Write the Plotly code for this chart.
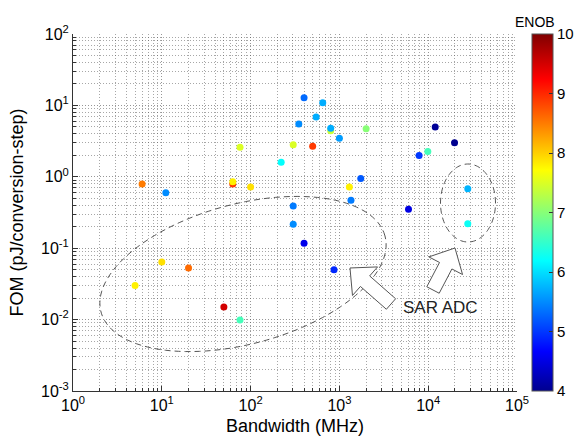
import numpy as np
import plotly.graph_objects as go

# ---------------- data ----------------
bandwidth_mhz = [6, 11.1, 5, 10, 20, 50, 76, 63, 63, 100, 76, 221, 302, 302, 302,
                 400, 400, 349, 547, 500, 649, 798, 798, 1000, 2000, 1740, 1295,
                 1350, 870, 6000, 7900, 9900, 12000, 19800, 27900, 27900]
fom_pj = [0.79, 0.60, 0.030, 0.064, 0.053, 0.015, 0.0099, 0.79, 0.855, 0.72, 2.6,
          1.6, 2.8, 0.39, 0.216, 0.117, 12.8, 5.5, 6.9, 2.67, 10.9, 4.4, 4.8,
          3.46, 4.7, 0.95, 0.72, 0.47, 0.05, 0.35, 1.98, 2.27, 4.98, 3.0, 0.68, 0.22]
enob = [8.5, 5.5, 7.8, 7.9, 8.6, 9.5, 6.6, 8.9, 7.8, 7.9, 7.5, 6.2, 7.5, 5.4, 5.5,
        4.55, 5.3, 5.5, 5.7, 8.9, 5.7, 7.4, 5.7, 5.6, 7.0, 5.2, 7.8, 5.4, 4.9,
        4.5, 5.0, 6.6, 4.05, 4.0, 5.75, 6.25]

x_tick_vals = [1, 10, 100, 1000, 10000, 100000]
x_tick_text = ["10<sup>0</sup>", "10<sup>1</sup>", "10<sup>2</sup>",
               "10<sup>3</sup>", "10<sup>4</sup>", "10<sup>5</sup>"]
y_tick_vals = [0.001, 0.01, 0.1, 1, 10, 100]
y_tick_text = ["10<sup>-3</sup>", "10<sup>-2</sup>", "10<sup>-1</sup>",
               "10<sup>0</sup>", "10<sup>1</sup>", "10<sup>2</sup>"]
cbar_ticks = [4, 5, 6, 7, 8, 9, 10]

x_minor = [m * 10 ** k for k in range(0, 5) for m in range(2, 10)]
y_minor = [m * 10.0 ** k for k in range(-3, 2) for m in range(2, 10)]

JET = [[0.0, "rgb(0,0,143)"], [0.111, "rgb(0,0,255)"], [0.365, "rgb(0,255,255)"],
       [0.619, "rgb(255,255,0)"], [0.873, "rgb(255,0,0)"], [1.0, "rgb(128,0,0)"]]

FONT = "Liberation Sans, Arial, sans-serif"
W, H = 574, 438
ML, MR, MT, MB = 73, 57, 34, 47
PW, PH = W - ML - MR, H - MT - MB


def px2paper(px, py):
    return (px - ML) / PW, (H - MB - py) / PH


def ellipse_path(cx, cy, a, b, theta_deg, n=120):
    th = np.radians(theta_deg)
    t = np.linspace(0, 2 * np.pi, n)
    dx = a * np.cos(t) * np.cos(th) - b * np.sin(t) * np.sin(th)
    dy = a * np.cos(t) * np.sin(th) + b * np.sin(t) * np.cos(th)
    pts = [px2paper(cx + u, cy - v) for u, v in zip(dx, dy)]
    return "M " + " L ".join(f"{x:.5f},{y:.5f}" for x, y in pts) + " Z"


def arrow_path(tip, tail, hl=20, hw=19, sw=7):
    P = np.array(tip, float)
    T = np.array(tail, float)
    u = (P - T) / np.linalg.norm(P - T)
    nrm = np.array([-u[1], u[0]])
    B = P - u * hl
    poly = [P, B + nrm * hw, B + nrm * sw, T + nrm * sw, T - nrm * sw,
            B - nrm * sw, B - nrm * hw]
    pts = [px2paper(p[0], p[1]) for p in poly]
    return "M " + " L ".join(f"{x:.5f},{y:.5f}" for x, y in pts) + " Z"


fig = go.Figure()
fig.add_trace(go.Scatter(
    x=bandwidth_mhz, y=fom_pj, mode="markers", showlegend=False,
    marker=dict(size=7, color=enob, colorscale=JET, cmin=4, cmax=10,
                line=dict(width=0),
                colorbar=dict(x=(532 - ML) / PW, xanchor="left", xpad=0,
                              y=0.5, yanchor="middle", ypad=0, len=1, lenmode="fraction",
                              thickness=21, outlinewidth=1, outlinecolor="#555",
                              tickvals=cbar_ticks, ticks="inside", ticklen=4,
                              tickcolor="#333",
                              tickfont=dict(family=FONT, size=15, color="black"))),
))

grid_dash = "1px,2px"
axis_common = dict(
    type="log", ticks="inside", ticklen=5, tickcolor="#333", showline=True,
    linecolor="#333", linewidth=1, mirror=False, showgrid=True,
    gridcolor="rgba(80,80,80,0.6)", griddash=grid_dash, gridwidth=1,
    zeroline=False, automargin=False,
    tickfont=dict(family=FONT, size=16, color="black"),
)
minor_common = dict(tickmode="array", ticks="inside", ticklen=3, tickcolor="#333",
                    showgrid=True, gridcolor="rgba(80,80,80,0.5)", griddash=grid_dash)

fig.update_layout(
    width=W, height=H, margin=dict(l=ML, r=MR, t=MT, b=MB, autoexpand=False),
    paper_bgcolor="white", plot_bgcolor="white",
    font=dict(family=FONT, color="black"),
    xaxis=dict(**axis_common, range=[0, 5], tickmode="array", tickvals=x_tick_vals,
               ticktext=x_tick_text, minor=dict(**minor_common, tickvals=x_minor),
               title=dict(text="Bandwidth (MHz)", font=dict(family=FONT, size=18),
                          standoff=6)),
    yaxis=dict(**axis_common, range=[-3, 2], tickmode="array", tickvals=y_tick_vals,
               ticktext=y_tick_text, minor=dict(**minor_common, tickvals=y_minor),
               title=dict(text="FOM (pJ/conversion-step)", font=dict(family=FONT, size=18),
                          standoff=12)),
)

line_style = dict(color="#555", width=1, dash="6px,4px")
fig.add_shape(type="path", xref="paper", yref="paper",
              path=ellipse_path(243, 274, 147, 70, 15), line=line_style)
fig.add_shape(type="path", xref="paper", yref="paper",
              path=ellipse_path(468, 203, 27.5, 39, 0), line=line_style)
fig.add_shape(type="path", xref="paper", yref="paper",
              path=arrow_path((350, 268), (391, 304)),
              line=dict(color="#555", width=1), fillcolor="white")
fig.add_shape(type="path", xref="paper", yref="paper",
              path=arrow_path((455, 248), (433, 290)),
              line=dict(color="#555", width=1), fillcolor="white")

tx, ty = px2paper(440, 307)
fig.add_annotation(x=tx, y=ty, xref="paper", yref="paper", text="SAR ADC",
                   xanchor="center", yanchor="middle",
                   showarrow=False, font=dict(family=FONT, size=17, color="#222"))
ex, ey = px2paper(535, 22)
fig.add_annotation(x=ex, y=ey, xref="paper", yref="paper", text="ENOB",
                   xanchor="center", yanchor="middle",
                   showarrow=False, font=dict(family=FONT, size=14, color="black"))

fig.write_html("out.html", config={"displayModeBar": False},
               post_script="document.body.style.margin='0px';"
                           "document.body.style.overflow='hidden';")
